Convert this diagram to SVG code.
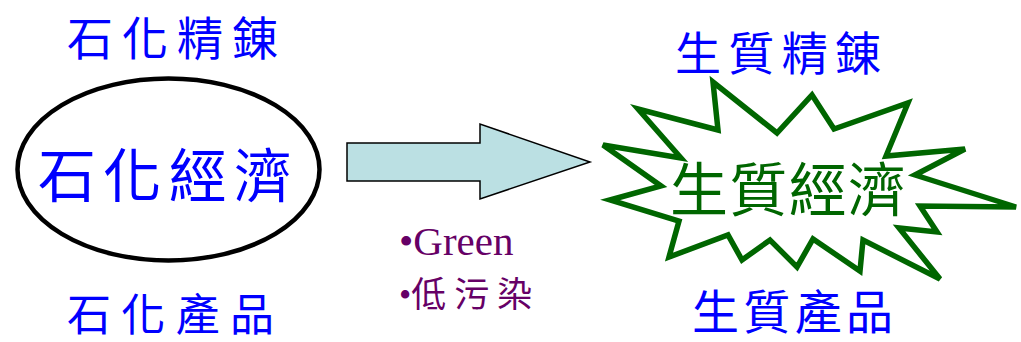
<svg xmlns="http://www.w3.org/2000/svg" width="1021" height="342" viewBox="0 0 1021 342">
  <style>
    .cjk { font-family: "Noto Sans CJK TC", "Noto Sans CJK SC", sans-serif; }
    .blue { fill: #0000ff; }
    .green { fill: #006600; }
    .purple { fill: #660066; }
    .serif { font-family: "Liberation Serif", "Noto Sans CJK TC", serif; }
  </style>

  <!-- petrochemical economy (left) -->
  <g id="petro-refining">
    <text class="cjk blue" x="67" y="55" font-size="46" textLength="211" lengthAdjust="spacing">石化精錬</text>
  </g>
  <g id="petro-economy">
    <ellipse cx="168.5" cy="169.5" rx="151" ry="91" fill="#ffffff" stroke="#000000" stroke-width="4.5"/>
    <text class="cjk blue" x="38" y="197" font-size="58" textLength="254" lengthAdjust="spacing">石化經濟</text>
  </g>
  <g id="petro-products">
    <text class="cjk blue" x="67" y="331" font-size="44" textLength="207" lengthAdjust="spacing">石化產品</text>
  </g>

  <!-- transition arrow -->
  <g id="connectors">
    <polygon points="347,143 480,143 480,124 590,162 480,199 480,181 347,181" fill="#bbe0e3" stroke="#000000" stroke-width="1.5" stroke-linejoin="miter"/>
  </g>

  <g id="transition-notes">
    <text class="serif purple" x="399" y="255" font-size="41">•Green</text>
    <text class="purple" x="399" y="307" font-size="35"><tspan class="serif">•</tspan><tspan class="cjk" textLength="121" lengthAdjust="spacing">低污染</tspan></text>
  </g>

  <!-- bio-based economy (right) -->
  <g id="bio-refining">
    <text class="cjk blue" x="675" y="70" font-size="46" textLength="206" lengthAdjust="spacing">生質精錬</text>
  </g>
  <g id="bio-economy">
    <polygon points="603,145 681,158 638,109 718,130 713,82 777,133 812,95 834,129 908,103 886,156 965,149 915,175 1016,207 920,206 937,232 899,228 940,279 863,240 860,271 813,239 797,267 770,240 742,260 728,235 669,257 679,221 610,200 661,186" fill="#ffffff" stroke="#006600" stroke-width="5.5" stroke-linejoin="miter"/>
    <text class="cjk green" x="670" y="211" font-size="58" textLength="236" lengthAdjust="spacing">生質經濟</text>
  </g>
  <g id="bio-products">
    <text class="cjk blue" x="692" y="329" font-size="47" textLength="201" lengthAdjust="spacing">生質產品</text>
  </g>
</svg>
